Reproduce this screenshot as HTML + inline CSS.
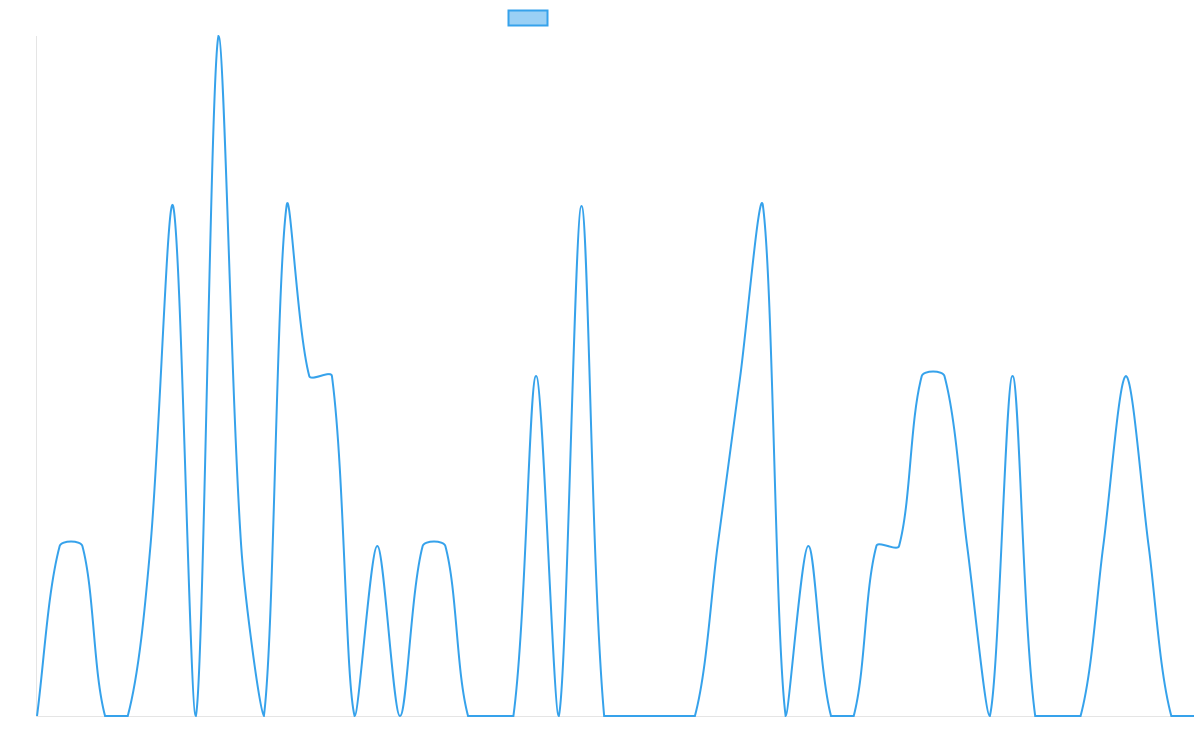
<!DOCTYPE html>
<html><head><meta charset="utf-8"><style>
html,body{margin:0;padding:0;background:#fff;width:1200px;height:750px;overflow:hidden;font-family:"Liberation Sans",sans-serif}
</style></head><body>
<svg id="chart" width="1200" height="750" xmlns="http://www.w3.org/2000/svg">
<rect x="508.5" y="10.5" width="39" height="15" fill="rgba(54,162,235,0.5)" stroke="#36a2eb" stroke-width="2"/>
<line x1="36.5" y1="36" x2="36.5" y2="716" stroke="#e5e5e5" stroke-width="1"/>
<line x1="36" y1="716.5" x2="1194" y2="716.5" stroke="#e5e5e5" stroke-width="1"/>
<path id="series" fill="none" stroke="#36a2eb" stroke-width="2"/>
</svg>
<script>
const values = [0,1,1,0,0,1,3,0,4,1,0,3,2,2,0,1,0,1,1,0,0,0,2,0,3,0,0,0,0,0,1,2,3,0,1,0,0,1,1,2,2,1,0,2,0,0,0,1,2,1,0,0];
const yMin = 0, yMax = 4;
const X0 = 37, X1 = 1194, Y0 = 716, Y1 = 36;
const tension = 0.3;
function xScale(i){return X0 + (X1 - X0) * i / (values.length - 1);}
function yScale(v){return Y0 - (Y0 - Y1) * (v - yMin) / (yMax - yMin);}
const pts = values.map((v,i)=>({x:xScale(i),y:yScale(v)}));
const n = pts.length;
const cps = pts.map((cur,i)=>{
  const prev = pts[Math.max(0,i-1)], next = pts[Math.min(n-1,i+1)];
  const d01 = Math.hypot(cur.x-prev.x,cur.y-prev.y), d12 = Math.hypot(next.x-cur.x,next.y-cur.y);
  let s01 = d01/(d01+d12), s12 = d12/(d01+d12);
  if(isNaN(s01)) s01=0; if(isNaN(s12)) s12=0;
  const fa = tension*s01, fb = tension*s12;
  const cl = v=>Math.max(Y1,Math.min(Y0,v));
  const cx = v=>Math.max(X0,Math.min(X1,v));
  return {
    px: cx(cur.x - fa*(next.x-prev.x)), py: cl(cur.y - fa*(next.y-prev.y)),
    nx: cx(cur.x + fb*(next.x-prev.x)), ny: cl(cur.y + fb*(next.y-prev.y))
  };
});
let p = `M${pts[0].x},${pts[0].y}`;
for(let i=0;i<n-1;i++){
  p += ` C${cps[i].nx},${cps[i].ny} ${cps[i+1].px},${cps[i+1].py} ${pts[i+1].x},${pts[i+1].y}`;
}
document.getElementById('series').setAttribute('d', p);
</script>
</body></html>
